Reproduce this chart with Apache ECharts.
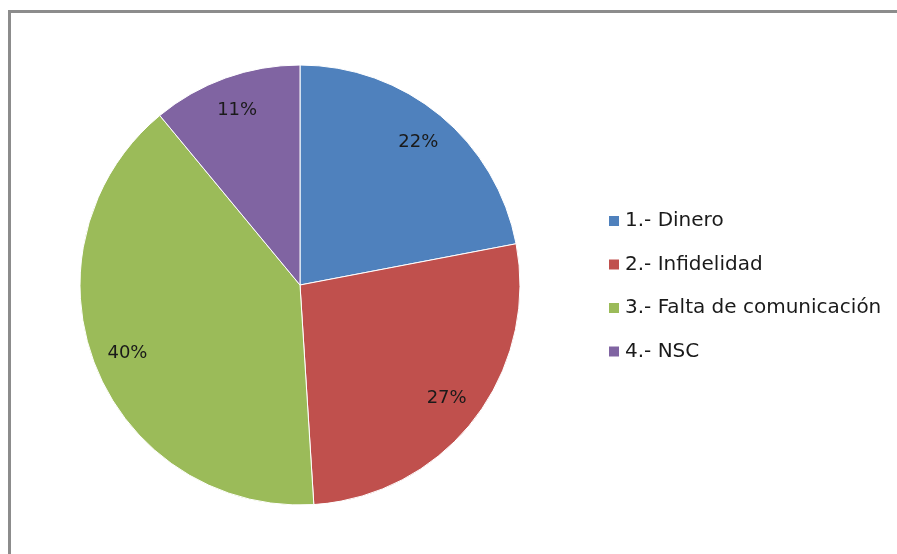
<!DOCTYPE html>
<html>
<head>
<meta charset="utf-8">
<script src="https://cdn.jsdelivr.net/npm/echarts@6/dist/echarts.min.js"></script>
<style>html,body{margin:0;padding:0;background:#fff;}#c{width:897px;height:554px;}</style>
</head>
<body>
<div id="c"></div>
<script>
const categories = ['1.- Dinero', '2.- Infidelidad', '3.- Falta de comunicación', '4.- NSC'];
const values = [22, 27, 40, 11];
const colors = ['#4F81BD', '#C0504D', '#9BBB59', '#8064A2'];

const chart = echarts.init(document.getElementById('c'));
const R = 220;
const data = categories.map((n, i) => ({ name: n, value: values[i], itemStyle: { color: colors[i] } }));
chart.setOption({
  animation: false,
  legend: {
    orient: 'vertical',
    left: 602,
    top: 204,
    itemWidth: 12,
    itemHeight: 12,
    itemGap: 19.5,
    icon: 'rect',
    textStyle: { fontFamily: 'DejaVu Sans', fontSize: 20, color: '#1a1a1a', lineHeight: 24 },
    data: categories
  },
  graphic: [
    { type: 'polyline', shape: { points: [[9.5, 560], [9.5, 11.5], [900, 11.5]] }, style: { stroke: '#8c8c8c', lineWidth: 3, fill: null } }
  ],
  series: [
    {
      type: 'pie',
      center: [300, 285],
      radius: [0, R],
      startAngle: 90,
      clockwise: true,
      label: { show: false },
      labelLine: { show: false },
      itemStyle: { borderColor: '#fff', borderWidth: 1 },
      data: data
    },
    {
      type: 'pie',
      silent: true,
      legendHoverLink: false,
      center: [300, 285],
      radius: [R * 0.66, R],
      startAngle: 90,
      clockwise: true,
      itemStyle: { color: 'rgba(0,0,0,0)' },
      label: { show: true, position: 'inside', formatter: '{d}%', fontFamily: 'DejaVu Sans', fontSize: 18, color: '#1a1a1a' },
      labelLine: { show: false },
      data: categories.map((n, i) => ({ name: n, value: values[i], itemStyle: { color: 'rgba(0,0,0,0)' } }))
    }
  ]
});
</script>
</body>
</html>
